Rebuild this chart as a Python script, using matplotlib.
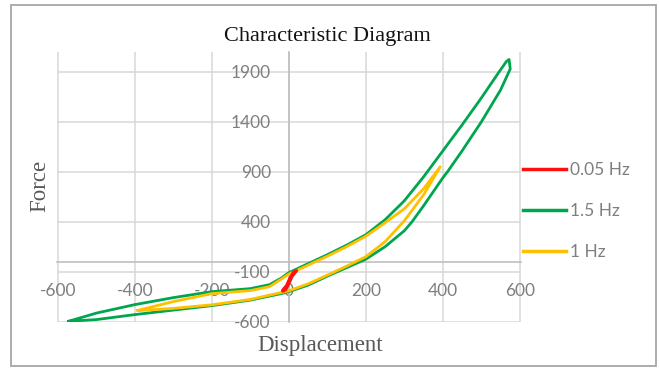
import matplotlib
matplotlib.use("Agg")
import matplotlib.pyplot as plt
from matplotlib.patches import Rectangle

plt.rcParams["axes.unicode_minus"] = False

# Hysteresis loops: each loop = lower branch (left -> right) then upper branch (right -> left)
green_x = [-572, -500, -400, -300, -200, -100, -20, 0, 50, 100, 150, 200, 250, 300, 320, 350, 400, 412, 450, 500, 550, 575,
           572,
           565, 546, 500, 450, 400, 350, 300, 250, 200, 150, 100, 50, 0, -20, -50, -100, -200, -300, -400, -500, -572]
green_y = [-597, -580, -530, -485, -440, -385, -320, -300, -235, -145, -60, 25, 150, 310, 400, 560, 840, 900, 1110, 1400, 1720, 1930,
           2025,
           2005, 1900, 1640, 1370, 1110, 850, 610, 420, 270, 165, 70, -20, -110, -165, -230, -270, -300, -360, -430, -515, -597]

yellow_x = [-392, -300, -200, -100, 0, 50, 100, 150, 200, 250, 300, 350, 393,
            350, 300, 250, 200, 150, 100, 50, 0, -50, -100, -200, -300, -392]
yellow_y = [-490, -468, -432, -378, -292, -222, -135, -45, 50, 200, 410, 670, 950,
            730, 530, 390, 255, 150, 55, -35, -125, -250, -290, -320, -400, -487]

red_x = [-15, -8, 0, 8, 18, 20, 12, 2, -6, -14, -15]
red_y = [-290, -280, -220, -150, -100, -90, -105, -170, -240, -275, -290]

x_ticks = [-600, -400, -200, 0, 200, 400, 600]
y_ticks = [-600, -100, 400, 900, 1400, 1900]

tick_font = "Lato"
serif_font = "Liberation Serif"

fig = plt.figure(figsize=(6.59, 3.69), dpi=100)
ax = fig.add_axes([0.086, 0.1274, 0.7046, 0.7317])

ax.plot(green_x, green_y, color="#00A64F", lw=2.0, label="1.5 Hz", zorder=3)
ax.plot(yellow_x, yellow_y, color="#FFC000", lw=2.0, label="1 Hz", zorder=4)
ax.plot(red_x, red_y, color="#FF1010", lw=2.2, label="0.05 Hz", zorder=5)

ax.set_xlim(-603, 603)
ax.set_ylim(-604, 2100)
ax.set_xticks(x_ticks)
ax.set_yticks(y_ticks)
ax.grid(True, color="#d9d9d9", lw=1.1)
ax.set_axisbelow(True)

for side in ["top", "right"]:
    ax.spines[side].set_visible(False)
ax.spines["bottom"].set_position(("data", 0))
ax.spines["left"].set_position(("data", 0))
for side in ["bottom", "left"]:
    ax.spines[side].set_color("#bfbfbf")
    ax.spines[side].set_linewidth(1.2)
    ax.spines[side].set_zorder(1)

ax.tick_params(axis="x", length=0, pad=15, labelsize=12.5, labelcolor="#7f7f7f")
ax.tick_params(axis="y", length=0, pad=13, labelsize=12.5, labelcolor="#7f7f7f")
for lab in ax.get_xticklabels() + ax.get_yticklabels():
    lab.set_fontfamily(tick_font)

fig.text(327 / 659, 1 - 37 / 369, "Characteristic Diagram", ha="center", va="center",
         fontsize=16, family=serif_font, color="#111111")
fig.text(320 / 659, 1 - 345 / 369, "Displacement", ha="center", va="center",
         fontsize=16.5, family=serif_font, color="#595959")
fig.text(40 / 659, 1 - 186 / 369, "Force", ha="center", va="center", rotation=90,
         fontsize=16.5, family=serif_font, color="#595959")

handles, labels = ax.get_legend_handles_labels()
order = [2, 0, 1]
leg = fig.legend([handles[i] for i in order], [labels[i] for i in order],
                 loc="center left", bbox_to_anchor=(523 / 659, 1 - 211 / 369),
                 frameon=False, borderpad=0, borderaxespad=0,
                 handlelength=2.5, handletextpad=0.2, labelspacing=1.45,
                 prop={"family": tick_font, "size": 12.5})
for t in leg.get_texts():
    t.set_color("#7f7f7f")
for h in leg.legend_handles:
    h.set_linewidth(2.5)

# outer frame around the whole chart
fig.patches.append(Rectangle((11 / 659, 1 - 366 / 369), 645 / 659, 361 / 369,
                             transform=fig.transFigure, fill=False,
                             edgecolor="#a6a6a6", lw=1.3))

fig.savefig("out.png", dpi=100)
